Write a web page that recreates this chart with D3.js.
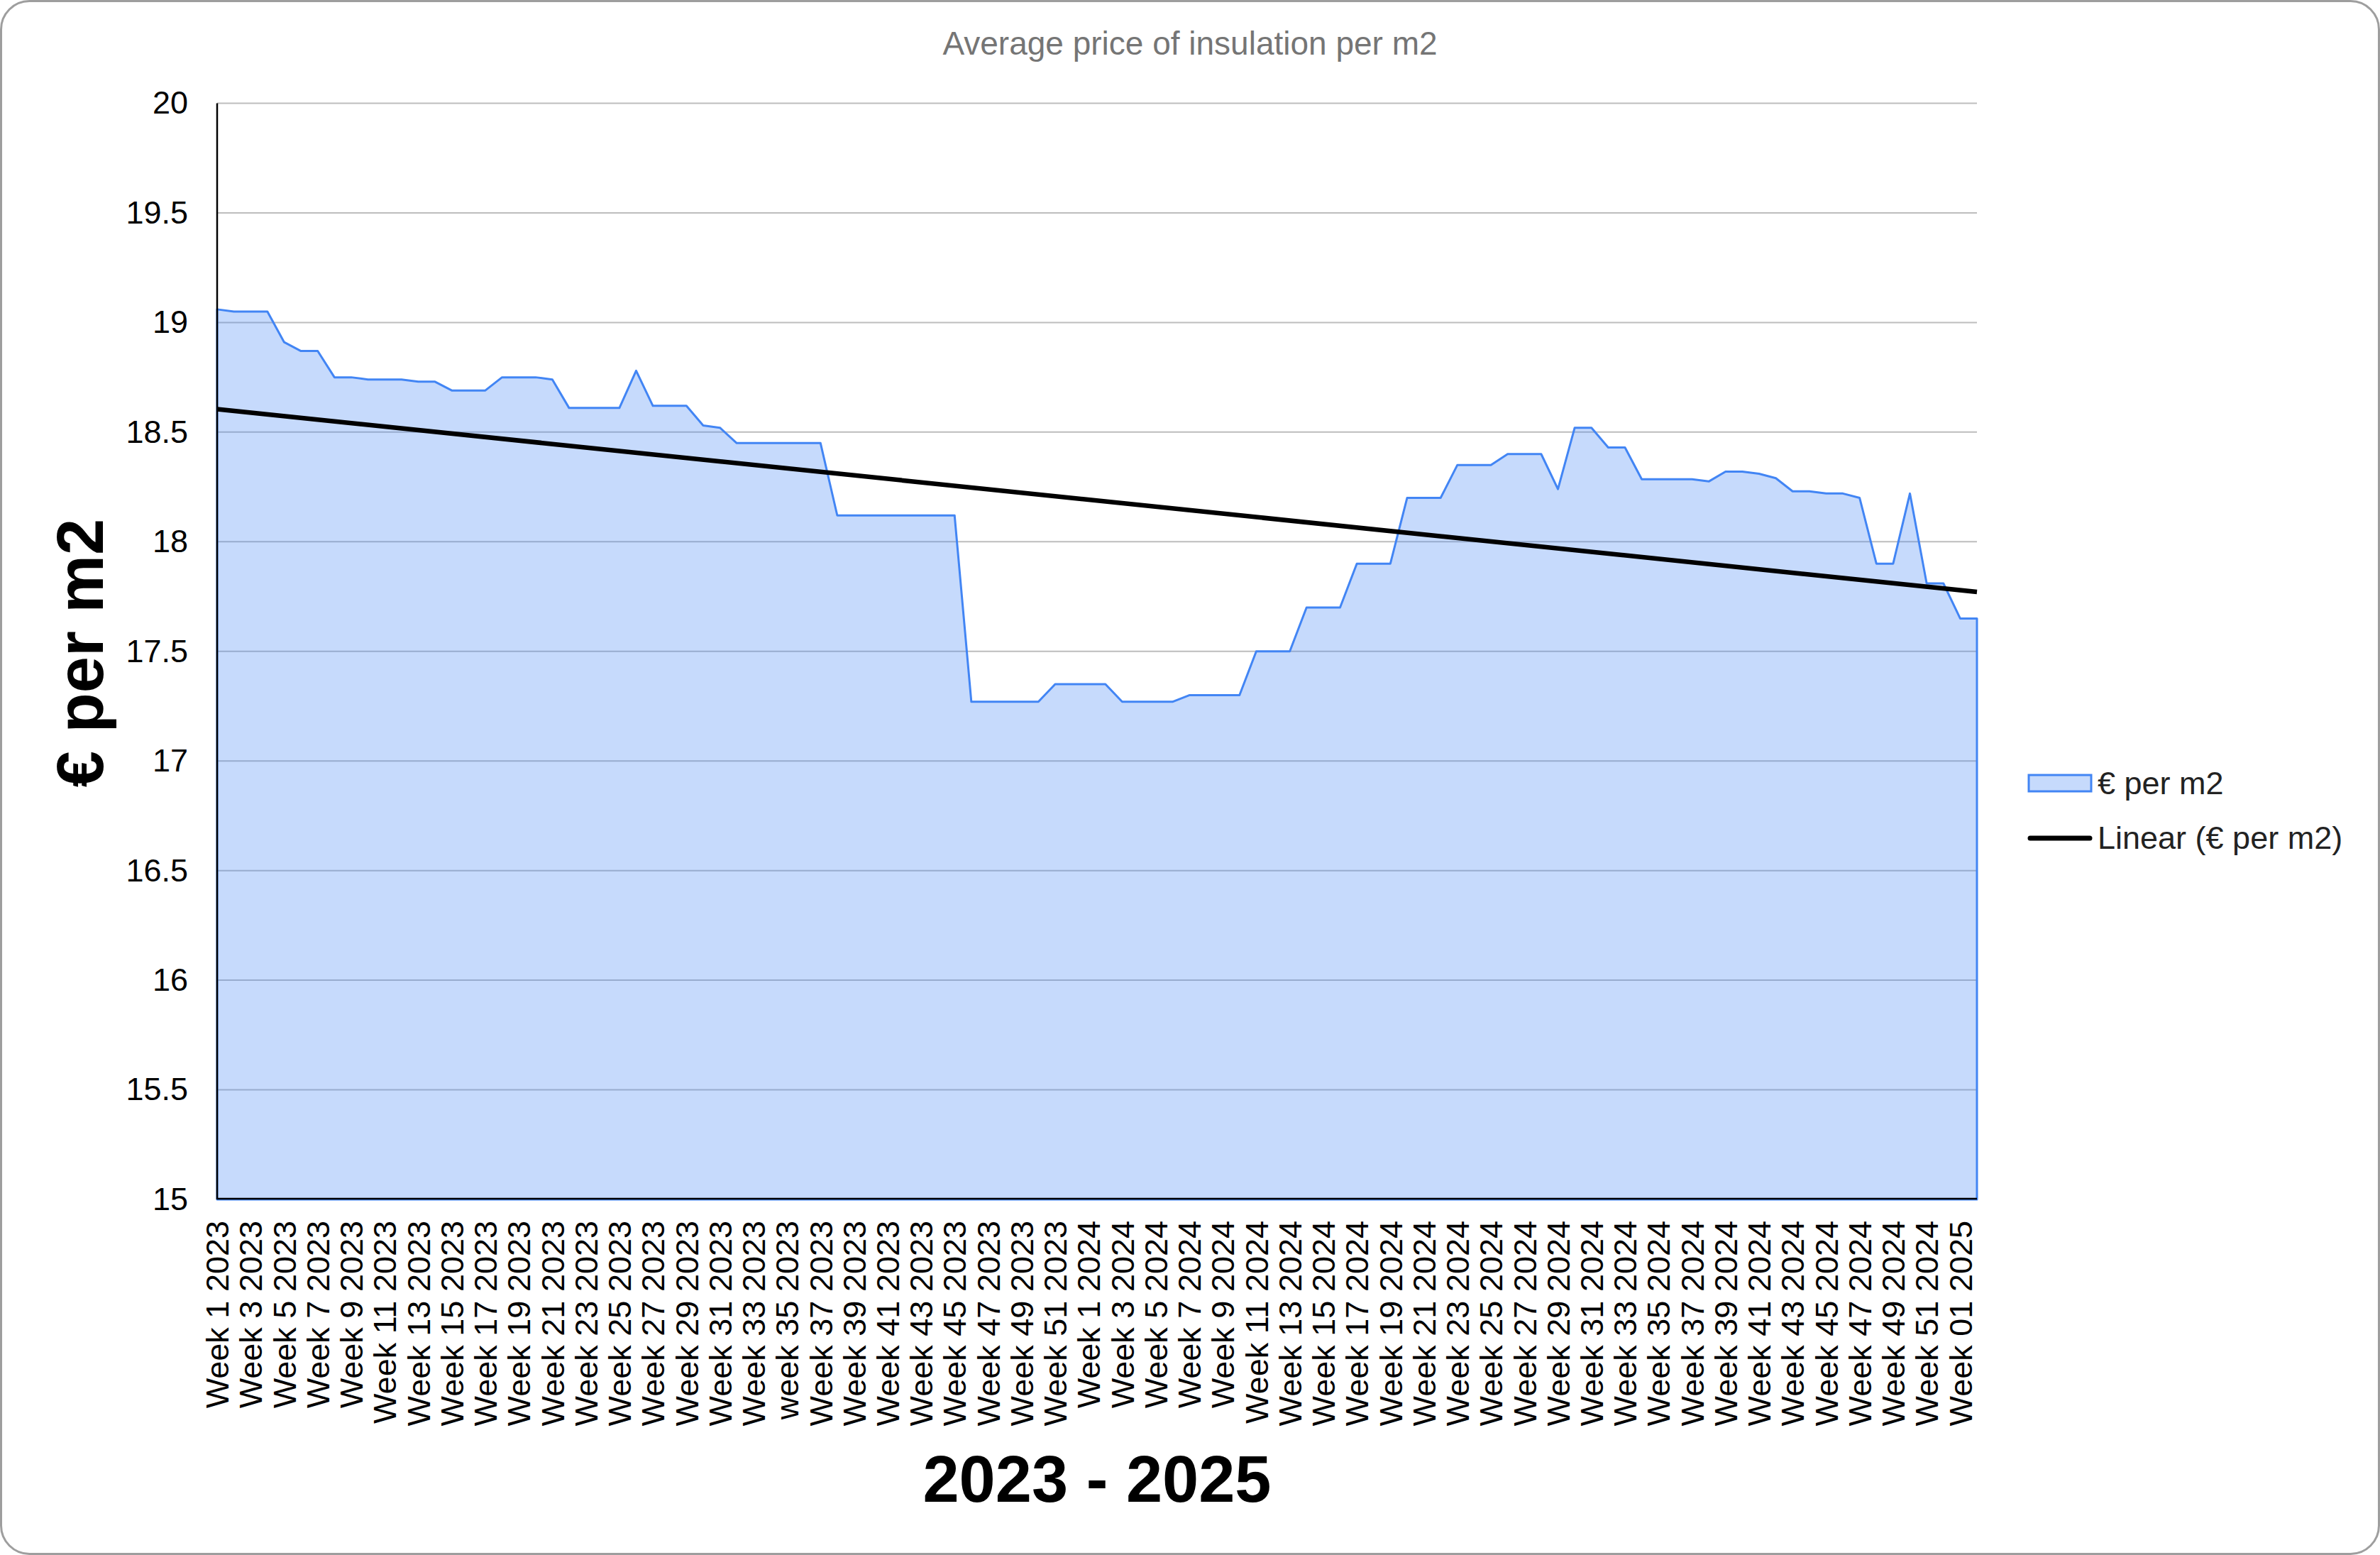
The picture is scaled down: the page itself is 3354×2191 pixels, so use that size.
<!DOCTYPE html>
<html>
<head>
<meta charset="utf-8">
<script src="https://cdn.jsdelivr.net/npm/d3@7"></script>
<style>
	body { margin: 0; background: #fff; }
	svg { display: block; font-family: "Liberation Sans", Arial, sans-serif; }
</style>
</head>
<body>
<div id="container"></div>
<script>
//Week labels per year
var labels2023 = ["Week 1 2023","Week 2 2023","Week 3 2023","Week 4 2023","Week 5 2023","Week 6 2023","Week 7 2023","Week 8 2023","Week 9 2023","Week 10 2023",
	"Week 11 2023","Week 12 2023","Week 13 2023","Week 14 2023","Week 15 2023","Week 16 2023","Week 17 2023","Week 18 2023","Week 19 2023","Week 20 2023",
	"Week 21 2023","Week 22 2023","Week 23 2023","Week 24 2023","Week 25 2023","Week 26 2023","Week 27 2023","Week 28 2023","Week 29 2023","Week 30 2023",
	"Week 31 2023","Week 32 2023","Week 33 2023","Week 34 2023","week 35 2023","Week 36 2023","Week 37 2023","Week 38 2023","Week 39 2023","Week 40 2023",
	"Week 41 2023","Week 42 2023","Week 43 2023","Week 44 2023","Week 45 2023","Week 46 2023","Week 47 2023","Week 48 2023","Week 49 2023","Week 50 2023",
	"Week 51 2023","Week 52 2023"];
var labels2024 = ["Week 1 2024","Week 2 2024","Week 3 2024","Week 4 2024","Week 5 2024","Week 6 2024","Week 7 2024","Week 8 2024","Week 9 2024","Week 10 2024",
	"Week 11 2024","Week 12 2024","Week 13 2024","Week 14 2024","Week 15 2024","Week 16 2024","Week 17 2024","Week 18 2024","Week 19 2024","Week 20 2024",
	"Week 21 2024","Week 22 2024","Week 23 2024","Week 24 2024","Week 25 2024","Week 26 2024","Week 27 2024","Week 28 2024","Week 29 2024","Week 30 2024",
	"Week 31 2024","Week 32 2024","Week 33 2024","Week 34 2024","Week 35 2024","Week 36 2024","Week 37 2024","Week 38 2024","Week 39 2024","Week 40 2024",
	"Week 41 2024","Week 42 2024","Week 43 2024","Week 44 2024","Week 45 2024","Week 46 2024","Week 47 2024","Week 48 2024","Week 49 2024","Week 50 2024",
	"Week 51 2024","Week 52 2024"];
var labels2025 = ["Week 01 2025","Week 02 2025"];

//Price in euro per m2, per week
var values2023 = [19.06, 19.05, 19.05, 19.05, 18.91, 18.87, 18.87, 18.75, 18.75, 18.74,
	18.74, 18.74, 18.73, 18.73, 18.69, 18.69, 18.69, 18.75, 18.75, 18.75,
	18.74, 18.61, 18.61, 18.61, 18.61, 18.78, 18.62, 18.62, 18.62, 18.53,
	18.52, 18.45, 18.45, 18.45, 18.45, 18.45, 18.45, 18.12, 18.12, 18.12,
	18.12, 18.12, 18.12, 18.12, 18.12, 17.27, 17.27, 17.27, 17.27, 17.27,
	17.35, 17.35];
var values2024 = [17.35, 17.35, 17.27, 17.27, 17.27, 17.27, 17.30, 17.30, 17.30, 17.30,
	17.50, 17.50, 17.50, 17.70, 17.70, 17.70, 17.90, 17.90, 17.90, 18.20,
	18.20, 18.20, 18.35, 18.35, 18.35, 18.40, 18.40, 18.40, 18.24, 18.52,
	18.52, 18.43, 18.43, 18.285, 18.285, 18.285, 18.285, 18.275, 18.32, 18.32,
	18.31, 18.29, 18.23, 18.23, 18.22, 18.22, 18.20, 17.90, 17.90, 18.22,
	17.81, 17.81];
var values2025 = [17.65, 17.65];

var yTicks = [15, 15.5, 16, 16.5, 17, 17.5, 18, 18.5, 19, 19.5, 20];

var title = "Average price of insulation per m2";
var yTitle = "€ per m2";
var xTitle = "2023 - 2025";
var seriesName = "€ per m2";
var trendName = "Linear (€ per m2)";

function makeChart(){
	var w = 3354;
	var h = 2191;
	var left = 306, right = 2786, top = 145.5, bottom = 1690;

	var labels = labels2023.concat(labels2024, labels2025);
	var values = values2023.concat(values2024, values2025);
	var dataset = labels.map(function(l, i){ return {week: l, price: values[i], i: i}; });

	var svg = d3.select('#container')
		.append("svg")
		.attr("width", w)
		.attr("height", h);

	//Outer frame
	svg.append("rect")
		.attr("x", 1.5).attr("y", 1.5)
		.attr("width", w - 3).attr("height", h - 3)
		.attr("rx", 40).attr("ry", 40)
		.attr("fill", "#fff")
		.attr("stroke", "#9e9e9e")
		.attr("stroke-width", 3);

	var xScale = d3.scalePoint()
		.domain(labels)
		.range([left, right]);

	var yScale = d3.scaleLinear()
		.domain([15, 20])
		.range([bottom, top]);

	//Grid lines
	svg.append("g")
		.selectAll("line")
		.data(yTicks)
		.enter()
		.append("line")
		.attr("x1", left)
		.attr("x2", right)
		.attr("y1", function(d){ return yScale(d); })
		.attr("y2", function(d){ return yScale(d); })
		.attr("stroke", "#bdbdbd")
		.attr("stroke-width", 2);

	//Area
	var area = d3.area()
		.x(function(d){ return xScale(d.week); })
		.y0(yScale(15))
		.y1(function(d){ return yScale(d.price); });

	svg.append("path")
		.datum(dataset)
		.attr("d", area)
		.attr("fill", "#4285f4")
		.attr("fill-opacity", 0.3)
		.attr("stroke", "#4285f4")
		.attr("stroke-width", 3)
		.attr("stroke-linejoin", "round");

	//Linear trend line (least squares)
	var n = dataset.length;
	var mx = d3.mean(dataset, function(d){ return d.i; });
	var my = d3.mean(dataset, function(d){ return d.price; });
	var sxy = d3.sum(dataset, function(d){ return (d.i - mx) * (d.price - my); });
	var sxx = d3.sum(dataset, function(d){ return (d.i - mx) * (d.i - mx); });
	var slope = sxy / sxx;
	var icpt = my - slope * mx;
	var trend = [dataset[0], dataset[n - 1]].map(function(d){
		return {week: d.week, price: icpt + slope * d.i};
	});

	svg.append("path")
		.datum(trend)
		.attr("d", d3.line()
			.x(function(d){ return xScale(d.week); })
			.y(function(d){ return yScale(d.price); }))
		.attr("fill", "none")
		.attr("stroke", "#000")
		.attr("stroke-width", 6.5);

	//Axis lines
	svg.append("line")
		.attr("x1", left).attr("x2", left)
		.attr("y1", top).attr("y2", bottom)
		.attr("stroke", "#000").attr("stroke-width", 2.5);
	svg.append("line")
		.attr("x1", left).attr("x2", right)
		.attr("y1", bottom - 1).attr("y2", bottom - 1)
		.attr("stroke", "#000").attr("stroke-width", 2.5);

	//Y axis
	var yAxis = svg.append("g")
		.attr("transform", "translate(" + left + ",0)")
		.call(d3.axisLeft(yScale)
			.tickValues(yTicks)
			.tickSize(0)
			.tickPadding(41)
			.tickFormat(function(d){ return d.toString(); }));
	yAxis.select(".domain").remove();
	yAxis.selectAll("text")
		.attr("font-family", "Liberation Sans, Arial, sans-serif")
		.attr("font-size", "45px")
		.attr("fill", "#000");

	//X axis, every other week labelled
	var xAxis = svg.append("g")
		.attr("transform", "translate(0," + bottom + ")")
		.call(d3.axisBottom(xScale)
			.tickValues(labels.filter(function(d, i){ return i % 2 === 0; }))
			.tickSize(0));
	xAxis.select(".domain").remove();
	xAxis.selectAll("text")
		.attr("transform", "rotate(-90)")
		.attr("x", -30)
		.attr("y", 0)
		.attr("dy", "0.35em")
		.style("text-anchor", "end")
		.attr("font-family", "Liberation Sans, Arial, sans-serif")
		.attr("font-size", "45px")
		.attr("fill", "#000");

	//Titles
	svg.append("text")
		.text(title)
		.attr("x", w / 2)
		.attr("y", 77)
		.attr("text-anchor", "middle")
		.attr("font-size", "46px")
		.attr("fill", "#757575");

	svg.append("text")
		.text(yTitle)
		.attr("transform", "translate(145,920) rotate(-90)")
		.attr("text-anchor", "middle")
		.attr("font-size", "92px")
		.attr("font-weight", "bold")
		.attr("fill", "#000");

	svg.append("text")
		.text(xTitle)
		.attr("x", (left + right) / 2)
		.attr("y", 2116)
		.attr("text-anchor", "middle")
		.attr("font-size", "92px")
		.attr("font-weight", "bold")
		.attr("fill", "#000");

	//Legend
	var legend = svg.append("g");
	legend.append("rect")
		.attr("x", 2859).attr("y", 1092)
		.attr("width", 88).attr("height", 23)
		.attr("fill", "#c6dafc")
		.attr("stroke", "#4285f4")
		.attr("stroke-width", 3);
	legend.append("text")
		.text(seriesName)
		.attr("x", 2956).attr("y", 1119)
		.attr("font-size", "45px")
		.attr("fill", "#222");
	legend.append("line")
		.attr("x1", 2861).attr("x2", 2945)
		.attr("y1", 1181).attr("y2", 1181)
		.attr("stroke", "#000")
		.attr("stroke-width", 7)
		.attr("stroke-linecap", "round");
	legend.append("text")
		.text(trendName)
		.attr("x", 2956).attr("y", 1196)
		.attr("font-size", "45px")
		.attr("fill", "#222");
}

makeChart();
</script>
</body>
</html>
